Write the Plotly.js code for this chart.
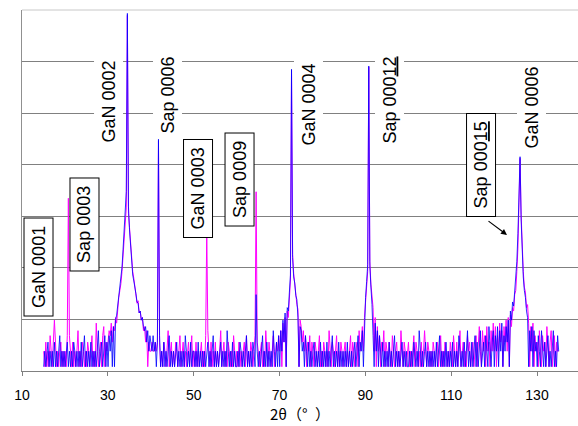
<!DOCTYPE html>
<html><head><meta charset="utf-8">
<script src="https://cdn.plot.ly/plotly-3.0.1.min.js"></script>
<style>html,body{margin:0;padding:0;background:#fff}#chart{width:578px;height:426px}</style>
</head><body><div id="chart"></div>
<script>
// scan grid (2theta, degrees)
const scanStepDeg = 0.25;
const magentaStartDeg = 15.05;
const blueStartDeg = 15.05;

// intensity (counts), one row = 5 degrees
const magentaCounts = [
  2,1,3,1,2,1,4,2,1,3, 8,3,1,2,1,2,3,1,2,1,
  2,1,4,1845,4,2,1,3,1,2, 1,2,5,1,2,1,3,2,1,2,
  1,3,2,1,2,4,1,2,1,7, 2,1,2,3,1,4,6,1,3,2,
  3,5,4,7,3,6,5,9,7,14, 22,30,41,70,150,300,560,1200,6500000,950,
  500,250,120,70,52,33,28,17,19,11, 12,8,9,5,6,3,5,1,3,2,
  2,3,2,2,3,2,3,24000,3,1, 2,1,3,2,1,2,5,1,2,3,
  1,2,1,3,2,1,2,4,1,2, 3,1,2,1,2,3,1,2,4,1,
  2,1,3,1,2,1,2,3,1,2, 1,4,420,5,2,1,3,1,2,1,
  3,1,2,1,2,5,1,2,3,1, 2,1,3,2,1,2,1,4,2,1,
  2,1,3,1,2,1,2,3,1,4, 1,2,1,3,2,1,2,4,2470,3,
  2,1,2,3,1,2,1,5,2,1, 3,2,1,2,4,1,2,3,2,4,
  2,5,1,7,3,9,1,12,9,25, 48,560000,150,65,38,31,16,13,1,8,
  6,3,5,2,4,1,3,2,4,1, 3,2,1,3,2,1,2,4,1,2,
  1,3,2,1,2,1,5,2,1,3, 2,1,2,4,1,2,1,3,2,1,
  2,3,1,2,1,2,4,1,3,2, 1,2,3,1,5,2,3,6,2,9,
  18,35,70,650000,110,40,22,14,2,9, 1,6,2,4,1,3,2,5,1,3,
  2,1,3,2,1,4,2,1,2,3, 1,2,1,5,2,1,3,2,1,2,
  3,1,2,1,2,4,1,3,2,1, 2,1,3,1,2,5,2,1,3,2,
  1,2,1,3,2,1,2,3,1,2, 4,1,2,1,3,2,1,2,1,3,
  2,1,4,2,1,3,1,2,5,1, 2,3,1,2,1,4,2,3,1,2,
  3,1,2,4,1,3,6,2,1,5, 2,4,1,6,2,3,1,5,2,7,
  2,6,1,4,2,7,3,5,1,6, 3,8,2,9,1,10,6,14,12,25,
  30,70,200,1500,11000,900,150,70,35,28, 14,16,7,1,6,2,7,1,4,2,
  3,1,5,2,1,4,2,3,1,6, 2,1,3,5,1,2,4,1,3,2,
  2
];
const blueCounts = [
  1,2,1,2,3,1,2,1,2,1, 3,1,2,1,2,4,1,2,1,2,
  1,2,3,1,2,1,2,1,3,2, 1,2,1,2,1,3,1,2,4,1,
  2,1,2,1,3,1,2,1,2,1, 2,5,1,2,3,1,2,4,1,3,
  1,4,2,5,1,6,1,8,10,16, 19,33,50,85,190,400,800,2500,7100000,1300,
  450,210,110,60,46,30,26,18,17,11, 12,8,9,6,5,6,3,5,2,4,
  3,2,4,2,3,1,3,25700,4,1, 2,1,3,1,2,1,2,4,1,2,
  1,2,1,2,3,1,2,1,2,1, 2,1,4,2,1,2,1,3,1,2,
  2,1,2,1,3,1,2,1,2,1, 2,1,2,3,1,2,1,2,4,1,
  2,1,2,1,2,3,1,2,1,2, 1,5,2,1,2,1,3,1,2,1,
  1,2,1,3,2,1,2,1,2,4, 1,2,1,2,1,3,2,1,25,2,
  1,2,1,2,4,1,2,1,3,1, 2,1,2,1,5,2,1,3,1,4,
  1,5,2,8,3,11,1,14,12,28, 60,585000,130,55,42,24,20,9,1,6,
  5,2,3,1,4,2,1,3,1,2, 1,2,3,1,2,1,2,1,3,1,
  2,1,2,1,3,1,2,1,2,4, 1,2,1,2,1,3,1,2,1,2,
  1,2,1,3,1,2,1,2,1,2, 3,1,2,4,1,3,2,5,1,10,
  22,45,95,678000,90,35,16,4,1,7, 2,5,1,4,2,1,3,1,2,1,
  2,1,3,1,2,1,2,4,1,2, 1,2,1,2,3,1,2,1,2,1,
  1,2,1,2,1,3,2,1,2,1, 5,2,1,2,1,2,3,1,2,1,
  2,1,2,1,2,1,3,1,2,4, 1,2,1,2,1,3,1,2,1,2,
  1,3,1,2,1,2,1,4,2,1, 2,1,3,1,2,5,1,2,1,3,
  1,2,4,1,3,1,2,5,1,2, 3,1,4,2,1,6,2,1,3,5,
  1,4,2,6,1,5,2,7,1,4, 2,6,3,8,1,12,8,18,15,32,
  45,110,380,2000,11800,700,110,55,30,22, 12,9,1,5,2,6,1,5,2,3,
  1,4,2,1,5,2,1,3,1,2, 4,1,2,1,3,5,1,2,1,4,
  2
];

const xTickValues = [10, 30, 50, 70, 90, 110, 130];
const xTickLabels = ['10', '30', '50', '70', '90', '110', '130'];
const xAxisTitle = '2θ（°\u2002）';
const peakLabels = ['GaN 0001', 'Sap 0003', 'GaN 0002', 'Sap 0006', 'GaN 0003',
  'Sap 0009', 'GaN 0004', 'Sap 000<span style="text-decoration:underline">12</span>',
  'Sap 000<span style="text-decoration:underline">15</span>', 'GaN 0006'];

const magentaX = magentaCounts.map((_, i) => magentaStartDeg + i * scanStepDeg);
const blueX = blueCounts.map((_, i) => blueStartDeg + i * scanStepDeg);

// label placement (layout only): [x in 2theta, y in paper fraction, boxed]
const labelPlacement = [
  [13.73, 0.2867, true], [24.56, 0.4072, true], [30.16, 0.7452, false], [44.02, 0.7632, false],
  [51.01, 0.5042, true], [60.80, 0.5305, true], [76.76, 0.7368, false], [95.63, 0.7507, false],
  [117.07, 0.5693, true], [128.60, 0.7299, false]
];
const TS = '\u2009';
const annotations = peakLabels.map((t, k) => {
  const p = labelPlacement[k];
  return {
    x: p[0], y: p[1], xref: 'x', yref: 'paper', text: (p[2] ? TS : '') + t + (p[2] ? TS : ''),
    textangle: -90, showarrow: false, xanchor: 'center', yanchor: 'middle',
    font: {family: 'Liberation Sans, Arial, sans-serif', size: 18, color: '#000'},
    bgcolor: '#ffffff', bordercolor: p[2] ? '#000000' : 'rgba(0,0,0,0)',
    borderwidth: 1, borderpad: 4
  };
});
annotations.push({
  x: 123.01, y: 0.3767, xref: 'x', yref: 'paper', text: '', showarrow: true,
  ax: -20, ay: -15, arrowhead: 2, arrowsize: 1, arrowwidth: 1.2, arrowcolor: '#000'
});

const traces = [
  {x: magentaX, y: magentaCounts, type: 'scatter', mode: 'lines',
   line: {color: '#ff00ff', width: 1}, hoverinfo: 'skip'},
  {x: blueX, y: blueCounts, type: 'scatter', mode: 'lines',
   line: {color: 'rgba(0,0,255,0.8)', width: 1}, hoverinfo: 'skip'}
];

const layout = {
  width: 578, height: 426,
  margin: {l: 22, r: 0, t: 10, b: 55},
  paper_bgcolor: '#fff', plot_bgcolor: '#fff',
  showlegend: false,
  xaxis: {
    range: [10, 139.55], tickmode: 'array', tickvals: xTickValues, ticktext: xTickLabels,
    ticks: 'outside', ticklen: 4, tickcolor: '#808080', tickwidth: 1,
    showline: true, linecolor: '#808080', linewidth: 1, showgrid: false, zeroline: false,
    tickfont: {family: 'Liberation Sans, Arial, sans-serif', size: 14, color: '#000'},
    ticklabelstandoff: 7, automargin: true,
    title: {text: xAxisTitle, font: {family: 'Noto Sans CJK JP, sans-serif', size: 15, color: '#000'}, standoff: 6}
  },
  yaxis: {
    type: 'log', range: [-0.083, 6.917], tickmode: 'linear', tick0: -0.083, dtick: 1,
    showticklabels: false, ticks: '', showgrid: true, gridcolor: '#808080', gridwidth: 1,
    showline: true, linecolor: '#909090', linewidth: 1, zeroline: false
  },
  shapes: [
    {type: 'line', xref: 'paper', yref: 'paper', x0: 0, x1: 1, y0: 1, y1: 1,
     line: {color: '#c8c8c8', width: 1}}
  ],
  annotations: annotations
};

Plotly.newPlot('chart', traces, layout, {staticPlot: true, displayModeBar: false});
</script></body></html>
